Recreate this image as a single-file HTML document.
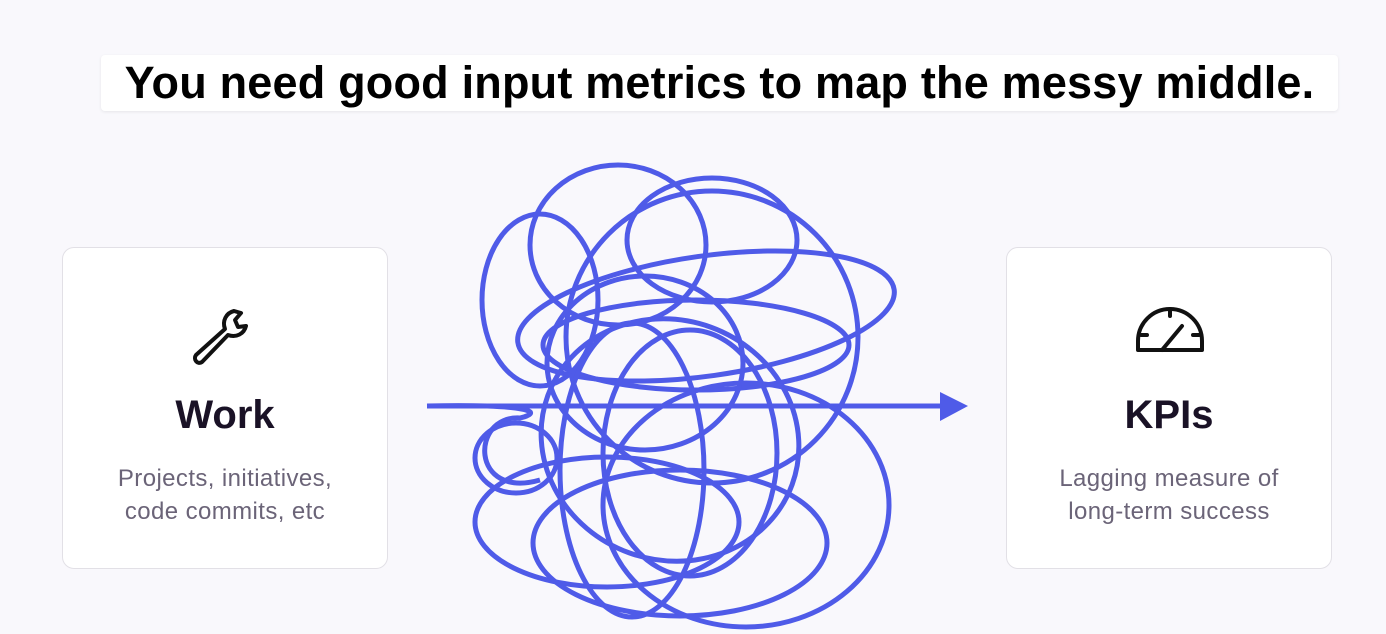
<!DOCTYPE html>
<html><head><style>
body{margin:0;width:1386px;height:634px;background:#f9f8fc;font-family:"Liberation Sans",sans-serif;position:relative;overflow:hidden}
.title{position:absolute;left:101px;top:55px;width:1237px;height:56px;background:#fff;border-radius:4px;box-shadow:0 1px 3px rgba(0,0,0,.08);font-weight:bold;font-size:45px;line-height:56px;text-align:center;color:#000;letter-spacing:0.2px;white-space:nowrap}
.card{position:absolute;top:247px;width:326px;height:322px;background:#fff;border:1.5px solid #e2e0e6;border-radius:12px;box-sizing:border-box;text-align:center}
.h{position:absolute;left:0;right:0;top:145px;font-weight:bold;font-size:40px;color:#1a1226}
.s{position:absolute;left:0;right:0;top:214px;font-size:24px;line-height:33px;color:#6b6478;letter-spacing:0.4px}
</style></head><body>
<div class="title">You need good input metrics to map the messy middle.</div>
<div class="card" style="left:62px">
<svg style="position:absolute;left:125px;top:55px" width="75" height="70" viewBox="0 0 75 70"><path d="M46 8 C38 10 34 18 37 26 L8 52 C5 56 9 62 14 59 L40 32 C48 35 56 31 58 23 L50 24 L47 17 L53 10 Z" fill="none" stroke="#111" stroke-width="4" stroke-linejoin="round"/></svg>
<div class="h">Work</div>
<div class="s">Projects, initiatives,<br>code commits, etc</div>
</div>
<div class="card" style="left:1006px">
<svg style="position:absolute;left:126px;top:55px" width="75" height="50" viewBox="0 0 75 50"><path d="M5 47 L5 38 A32 32 0 0 1 69 38 L69 47 Z" fill="none" stroke="#111" stroke-width="4" stroke-linejoin="round"/><path d="M37 6 L37 13 M8 32 L14 32 M60 32 L66 32 M29 47 L49 23" stroke="#111" stroke-width="4" stroke-linecap="round"/></svg>
<div class="h">KPIs</div>
<div class="s">Lagging measure of<br>long-term success</div>
</div>
<svg style="position:absolute;left:0;top:0" width="1386" height="634">
<g fill="none" stroke="#4f5be8" stroke-width="5">
<path d="M427 406 L945 406"/>
<path d="M427 406 C530 404 545 412 520 418 C470 415 470 500 540 480"/>
<ellipse cx="618" cy="245" rx="88" ry="80"/>
<ellipse cx="540" cy="300" rx="58" ry="86"/>
<ellipse cx="712" cy="240" rx="85" ry="62"/>
<ellipse cx="712" cy="337" rx="146" ry="146"/>
<ellipse cx="706" cy="316" rx="190" ry="60" transform="rotate(-8 706 316)"/>
<ellipse cx="696" cy="345" rx="153" ry="45"/>
<ellipse cx="645" cy="363" rx="98" ry="87"/>
<ellipse cx="670" cy="440" rx="130" ry="120" transform="rotate(20 670 440)"/>
<ellipse cx="607" cy="522" rx="132" ry="65"/>
<ellipse cx="680" cy="543" rx="147" ry="73"/>
<ellipse cx="746" cy="505" rx="143" ry="122"/>
<ellipse cx="516" cy="458" rx="41" ry="35"/>
<ellipse cx="690" cy="453" rx="87" ry="123"/>
<ellipse cx="632" cy="470" rx="72" ry="147"/>
</g>
<path d="M940 392 L968 406 L940 421 Z" fill="#4f5be8"/>
</svg>
</body></html>
